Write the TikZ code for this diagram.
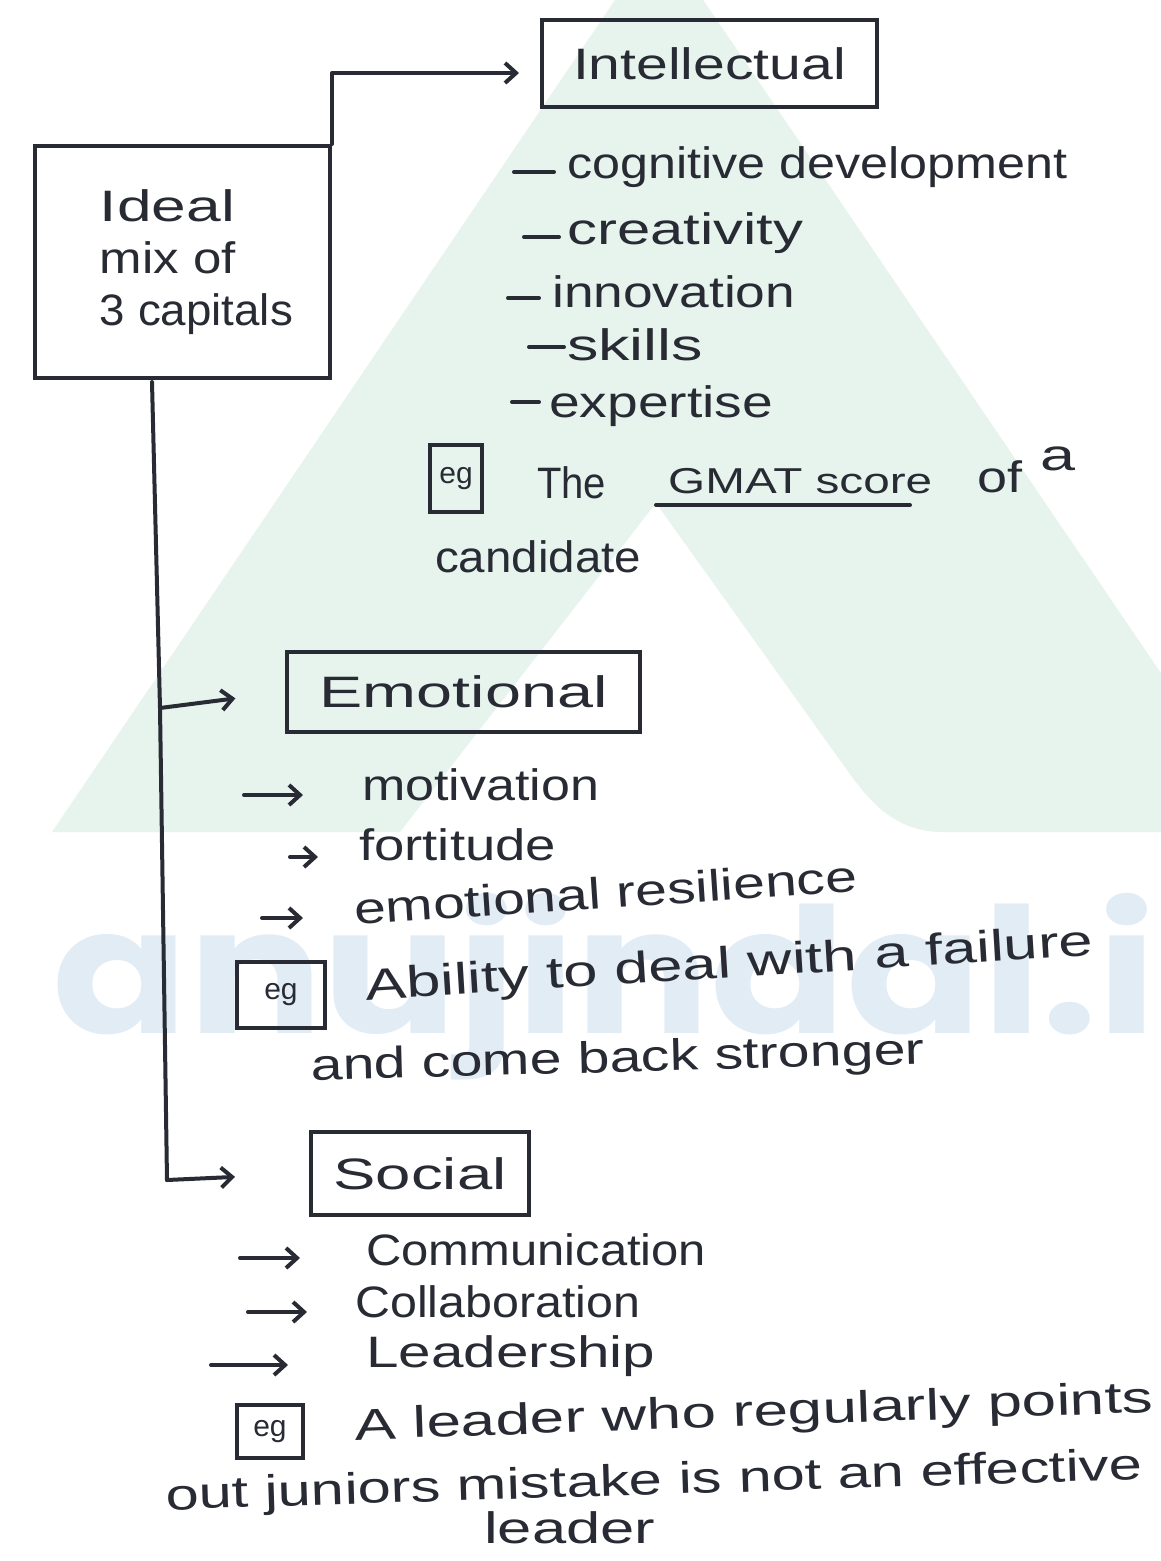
\documentclass[tikz,border=0pt]{standalone}
\usepackage{fontspec}
\setmainfont{Liberation Sans}
\newfontfamily\wmfont{Poppins}
\usetikzlibrary{arrows.meta}

\definecolor{ink}{RGB}{40,43,52}
\definecolor{wmgreen}{RGB}{231,244,237}
\definecolor{wmblue}{RGB}{226,236,245}

% stretch a line of text horizontally to a given width (in pt)
\newcommand\hw[2]{\resizebox{#1pt}{\height}{#2}}

\tikzset{
  handfont/.style={font=\fontsize{44}{52}\selectfont},
  hand/.style={handfont, inner sep=0pt, anchor=base west, text=ink},
  capbox/.style={handfont, draw=ink, line width=4pt, inner sep=0pt, text=ink},
  egbox/.style={draw=ink, line width=3.6pt, inner sep=0pt, text=ink,
    font=\fontsize{30}{32}\selectfont},
  link/.style={draw=ink, line width=4pt, line cap=round, line join=round},
  tip/.style={-{Straight Barb[length=11pt,width=20pt]}},
}

\begin{document}
\begin{tikzpicture}[x=1pt, y=-1pt]
\useasboundingbox (0,0) rectangle (1160,1561);
\fill[white] (0,0) rectangle (1160,1561);

% ---- background logo and site name ----
\fill[wmgreen] (52,832) -- (659,-65) -- (1269,832) -- (943,832)
  .. controls (895,832) and (870,802) .. (847,770)
  -- (656,503) -- (400,832) -- cycle;
\node[inner sep=0pt, anchor=base west, text=wmblue] (site) at (52,1033)
  {\resizebox{1238pt}{140pt}{\wmfont\bfseries anujindal.in}};

% ---- root ----
\node[capbox, minimum width=295pt, minimum height=232pt, align=left] (ideal) at (182.5,262)
  {\hspace*{28pt}\hw{135}{Ideal}\\ \hspace*{28pt}\hw{136}{mix of}\\ \hspace*{28pt}\hw{193}{3 capitals}};

% ---- three capitals ----
\node[capbox, minimum width=335pt, minimum height=87pt] (intel) at (709.5,63.5)
  {\hw{273}{Intellectual}};
\node[capbox, minimum width=353pt, minimum height=80pt] (emo) at (463.5,692)
  {\hw{288}{Emotional}};
\node[capbox, minimum width=218pt, minimum height=83pt] (social) at (420,1173.5)
  {\hw{173}{Social}};

% ---- connectors ----
\coordinate (trunktop) at (152,382);
\coordinate (emoj) at (160,708);
\coordinate (trunkbot) at (167,1180);
\draw[link, tip, shorten >=21pt] (ideal.north east) |- ([yshift=-9.5pt]intel.west);
\draw[link] (trunktop) -- (emoj) -- (trunkbot);
\draw[link, tip, shorten >=50pt] (emoj) -- (emo.west);
\draw[link, tip, shorten >=74pt] (trunkbot) -- (social.west);

% ---- intellectual items ----
\node[hand] (i1) at (567,178) {\hw{500}{cognitive development}};
\node[hand] (i2) at (567,244) {\hw{236}{creativity}};
\node[hand] (i3) at (552,307) {\hw{243}{innovation}};
\node[hand] (i4) at (567,360) {\hw{136}{skills}};
\node[hand] (i5) at (549,417) {\hw{224}{expertise}};
\draw[link] (514,172) -- (554,172);
\draw[link] (524,237) -- (559,237);
\draw[link] (508,298) -- (539,298);
\draw[link] (529,347) -- (564,347);
\draw[link] (512,402) -- (539,402);

\node[egbox, minimum width=52pt, minimum height=67pt] (eg1) at (456,478.5) {eg};
\node[hand] (the) at (537,498) {\hw{69}{The}};
\node[hand, font=\fontsize{36}{40}\selectfont] (gmat) at (668,493) {\hw{264}{GMAT score}};
\draw[link] (656,505) -- (910,505);
\node[hand] (of) at (977,492) {\hw{45}{of}};
\node[hand] (a) at (1040,470) {\hw{35}{a}};
\node[hand] (cand) at (435,572) {\hw{206}{candidate}};

% ---- emotional items ----
\node[hand] (m1) at (362,800) {\hw{237}{motivation}};
\node[hand] (m2) at (359,860) {\hw{197}{fortitude}};
\node[hand, rotate=3.8] (m3) at (355,925) {\hw{504}{emotional resilience}};
\draw[link, tip] (244,795) -- (303,795);
\draw[link, tip] (290,857) -- (318,857);
\draw[link, tip] (262,918) -- (303,918);

\node[egbox, minimum width=88pt, minimum height=66pt] (eg2) at (281,995) {eg};
\node[hand, rotate=3.5] (m4) at (366,1000) {\hw{729}{Ability to deal with a failure}};
\node[hand, rotate=1.5] (m5) at (311,1080) {\hw{614}{and come back stronger}};

% ---- social items ----
\node[hand] (s1) at (366,1265) {\hw{340}{Communication}};
\node[hand] (s2) at (355,1317) {\hw{285}{Collaboration}};
\node[hand] (s3) at (366,1367) {\hw{289}{Leadership}};
\draw[link, tip] (240,1258) -- (300,1258);
\draw[link, tip] (248,1312) -- (307,1312);
\draw[link, tip] (211,1365) -- (288,1365);

\node[egbox, minimum width=66pt, minimum height=53pt] (eg3) at (270,1431.5) {eg};
\node[hand, rotate=2] (s4) at (355,1440) {\hw{799}{A leader who regularly points}};
\node[hand, rotate=1.8] (s5) at (166,1510) {\hw{977}{out juniors mistake is not an effective}};
\node[hand] (s6) at (484,1543) {\hw{171}{leader}};
\end{tikzpicture}
\end{document}
